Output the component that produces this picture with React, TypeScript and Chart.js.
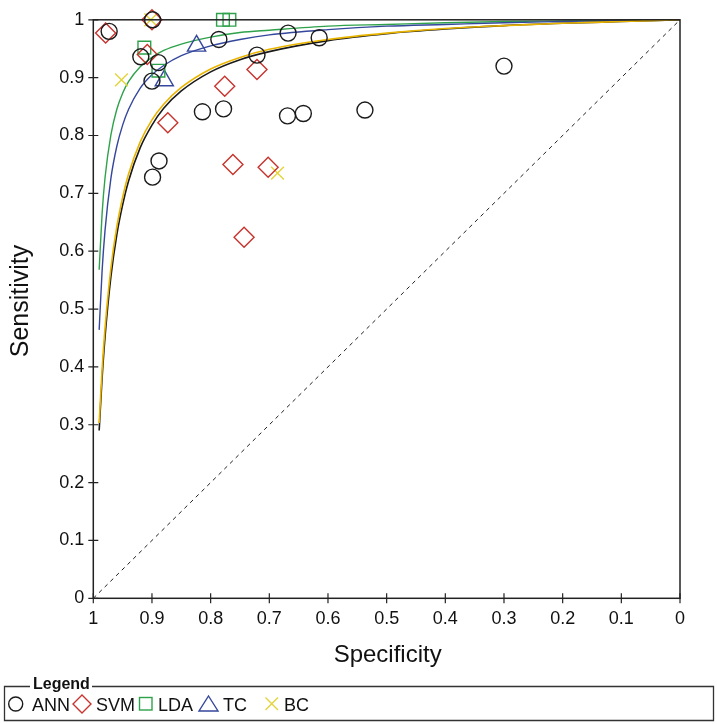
import React, { useEffect, useRef } from 'react';
import { Chart, registerables } from 'chart.js';

Chart.register(...registerables);

// ---- Study points (x = specificity, y = sensitivity) ----
const annSpec = [0.973, 0.899, 0.786, 0.668, 0.615, 0.919, 0.889, 0.721, 0.900, 0.300, 0.814, 0.778, 0.669, 0.642, 0.537, 0.888, 0.899];
const annSens = [0.980, 1.000, 0.966, 0.977, 0.969, 0.936, 0.926, 0.939, 0.894, 0.920, 0.841, 0.846, 0.834, 0.838, 0.844, 0.756, 0.728];
const svmSpec = [0.979, 0.900, 0.908, 0.721, 0.776, 0.873, 0.762, 0.702, 0.743];
const svmSens = [0.977, 1.000, 0.940, 0.914, 0.885, 0.822, 0.750, 0.745, 0.624];
const ldaSpec = [0.779, 0.768, 0.913, 0.889];
const ldaSens = [1.000, 1.000, 0.952, 0.912];
const tcSpec = [0.824, 0.879];
const tcSens = [0.955, 0.895];
const bcSpec = [0.902, 0.952, 0.686];
const bcSens = [1.000, 0.896, 0.735];

// ---- SROC curves ----
const curveSpec = [0.99, 0.985, 0.98, 0.97, 0.96, 0.95, 0.94, 0.92, 0.90, 0.88, 0.85, 0.80, 0.75, 0.70, 0.60, 0.50, 0.40, 0.30, 0.20, 0.10, 0.0];
const annCurve = [0.290, 0.381, 0.452, 0.556, 0.628, 0.680, 0.721, 0.779, 0.818, 0.847, 0.877, 0.910, 0.931, 0.945, 0.964, 0.976, 0.984, 0.990, 0.994, 0.997, 1.0];
const bcCurve = [0.303, 0.395, 0.467, 0.571, 0.642, 0.693, 0.733, 0.789, 0.827, 0.854, 0.883, 0.915, 0.935, 0.949, 0.966, 0.977, 0.985, 0.990, 0.994, 0.997, 1.0];
const tcCurve = [0.464, 0.566, 0.636, 0.726, 0.781, 0.818, 0.845, 0.882, 0.905, 0.921, 0.938, 0.955, 0.966, 0.974, 0.983, 0.989, 0.992, 0.995, 0.997, 0.999, 1.0];
const ldaCurve = [0.568, 0.665, 0.727, 0.801, 0.845, 0.873, 0.893, 0.919, 0.935, 0.947, 0.958, 0.970, 0.978, 0.982, 0.989, 0.992, 0.995, 0.997, 0.998, 0.999, 1.0];

const diagSpec = [1, 0];
const diagSens = [0, 1];

const xTitle = 'Specificity';
const yTitle = 'Sensitivity';
const legendTitle = 'Legend';
const legendLabels = ['ANN', 'SVM', 'LDA', 'TC', 'BC'];

const BLACK = '#1a1a1a';
const RED = '#c8332d';
const GREEN = '#2ea24a';
const BLUE = '#34479c';
const YELLOW = '#e3d43a';
const GOLD = '#e9b400';
const FONT = '"Liberation Sans", Arial, Helvetica, sans-serif';

const pts = (xs: number[], ys: number[]) => xs.map((x, i) => ({ x, y: ys[i] }));

const overlayPlugin = {
  id: 'overlay',
  afterDraw(chart: any) {
    const { ctx, chartArea: a, scales } = chart;
    const xs = scales.x;
    const ys = scales.y;
    ctx.save();
    // frame
    ctx.strokeStyle = '#222';
    ctx.lineWidth = 1.5;
    ctx.strokeRect(a.left, a.top, a.right - a.left, a.bottom - a.top);
    // tick marks crossing the axes
    ctx.lineWidth = 1.2;
    ctx.beginPath();
    xs.ticks.forEach((t: any) => {
      const px = xs.getPixelForValue(t.value);
      ctx.moveTo(px, a.bottom - 5);
      ctx.lineTo(px, a.bottom + 5);
    });
    ys.ticks.forEach((t: any) => {
      const py = ys.getPixelForValue(t.value);
      ctx.moveTo(a.left - 5, py);
      ctx.lineTo(a.left + 5, py);
    });
    ctx.stroke();

    // axis titles
    ctx.fillStyle = '#111';
    ctx.font = `24px ${FONT}`;
    ctx.textAlign = 'center';
    ctx.textBaseline = 'alphabetic';
    ctx.fillText(xTitle, (a.left + a.right) / 2 + 1, 662);
    ctx.save();
    ctx.translate(28, 301);
    ctx.rotate(-Math.PI / 2);
    ctx.font = `25px ${FONT}`;
    ctx.fillText(yTitle, 0, 0);
    ctx.restore();

    // legend box
    ctx.strokeStyle = '#333';
    ctx.lineWidth = 1.3;
    ctx.beginPath();
    ctx.moveTo(30, 686.5);
    ctx.lineTo(4.5, 686.5);
    ctx.lineTo(4.5, 720.5);
    ctx.lineTo(713.5, 720.5);
    ctx.lineTo(713.5, 686.5);
    ctx.lineTo(92, 686.5);
    ctx.stroke();
    ctx.font = `bold 16px ${FONT}`;
    ctx.textAlign = 'left';
    ctx.fillText(legendTitle, 33, 689);

    const cy = 704;
    ctx.lineWidth = 1.4;
    // circle
    ctx.strokeStyle = BLACK;
    ctx.beginPath();
    ctx.arc(15.7, cy, 7, 0, Math.PI * 2);
    ctx.stroke();
    // diamond
    ctx.strokeStyle = RED;
    ctx.beginPath();
    ctx.moveTo(82, cy - 9);
    ctx.lineTo(91, cy);
    ctx.lineTo(82, cy + 9);
    ctx.lineTo(73, cy);
    ctx.closePath();
    ctx.stroke();
    // square
    ctx.strokeStyle = GREEN;
    ctx.strokeRect(139.5, cy - 6.5, 12.5, 12.5);
    // triangle
    ctx.strokeStyle = BLUE;
    ctx.beginPath();
    ctx.moveTo(208.5, cy - 8);
    ctx.lineTo(218, cy + 7);
    ctx.lineTo(199, cy + 7);
    ctx.closePath();
    ctx.stroke();
    // cross
    ctx.strokeStyle = YELLOW;
    ctx.beginPath();
    ctx.moveTo(265.5, cy - 6.5);
    ctx.lineTo(278, cy + 6);
    ctx.moveTo(278, cy - 6.5);
    ctx.lineTo(265.5, cy + 6);
    ctx.stroke();

    ctx.fillStyle = '#111';
    ctx.font = `18px ${FONT}`;
    const lx = [32, 96, 158, 223, 284];
    legendLabels.forEach((l, i) => ctx.fillText(l, lx[i], 711));
    ctx.restore();
  },
};

export default function App() {
  const ref = useRef<HTMLCanvasElement>(null);
  useEffect(() => {
    document.body.style.margin = '0';
    if (!ref.current) return;
    const markerDs = (label: string, xs: number[], ys: number[], style: any, color: string, r: number) => ({
      type: 'scatter' as const,
      label,
      data: pts(xs, ys),
      pointStyle: style,
      pointRadius: r,
      pointBorderWidth: 1.4,
      borderColor: color,
      backgroundColor: 'rgba(0,0,0,0)',
      pointBackgroundColor: 'rgba(0,0,0,0)',
      pointBorderColor: color,
      showLine: false,
      clip: false,
    });
    const curveDs = (label: string, ys: number[], color: string, w = 1.4) => ({
      type: 'line' as const,
      label,
      data: pts(curveSpec, ys),
      borderColor: color,
      borderWidth: w,
      pointRadius: 0,
      fill: false,
      clip: false,
      cubicInterpolationMode: 'monotone' as const,
    });
    const chart = new Chart(ref.current, {
      type: 'scatter',
      data: {
        datasets: [
          markerDs('ANN', annSpec, annSens, 'circle', BLACK, 8),
          markerDs('SVM', svmSpec, svmSens, 'rectRot', RED, 10),
          markerDs('LDA', ldaSpec, ldaSens, 'rect', GREEN, 9),
          markerDs('TC', tcSpec, tcSens, 'triangle', BLUE, 10.5),
          markerDs('BC', bcSpec, bcSens, 'crossRot', YELLOW, 9),
          curveDs('BC curve', bcCurve, GOLD, 1.6),
          curveDs('ANN curve', annCurve, BLACK, 1.6),
          curveDs('TC curve', tcCurve, BLUE),
          curveDs('LDA curve', ldaCurve, GREEN),
          {
            type: 'line' as const,
            label: 'diag',
            data: pts(diagSpec, diagSens),
            borderColor: '#222',
            borderWidth: 1,
            borderDash: [4, 4],
            pointRadius: 0,
            fill: false,
          },
        ] as any,
      },
      options: {
        responsive: false,
        animation: false,
        devicePixelRatio: 1,
        layout: { padding: { left: 0, top: 13.5, right: 37, bottom: 65.7 } },
        plugins: { legend: { display: false }, tooltip: { enabled: false }, title: { display: false } },
        scales: {
          x: {
            type: 'linear',
            min: 0,
            max: 1,
            reverse: true,
            grid: { display: false, drawTicks: false },
            border: { display: false },
            afterFit: (s: any) => { s.height = 60; },
            ticks: {
              stepSize: 0.1,
              padding: 10,
              color: '#111',
              font: { size: 18, family: FONT },
              maxRotation: 0,
              callback: (v: any) => (v === 0 ? '0' : v === 1 ? '1' : Number(v).toFixed(1)),
            },
          },
          y: {
            type: 'linear',
            min: 0,
            max: 1,
            grid: { display: false, drawTicks: false },
            border: { display: false },
            afterFit: (s: any) => { s.width = 93.3; },
            ticks: {
              stepSize: 0.1,
              padding: 9,
              color: '#111',
              font: { size: 18, family: FONT },
              callback: (v: any) => (v === 0 ? '0' : v === 1 ? '1' : Number(v).toFixed(1)),
            },
          },
        },
      },
      plugins: [overlayPlugin],
    });
    return () => chart.destroy();
  }, []);
  return (
    <div style={{ position: 'absolute', left: 0, top: 0, width: 717, height: 724, background: '#fff' }}>
      <canvas ref={ref} width={717} height={724} style={{ display: 'block' }} />
    </div>
  );
}
